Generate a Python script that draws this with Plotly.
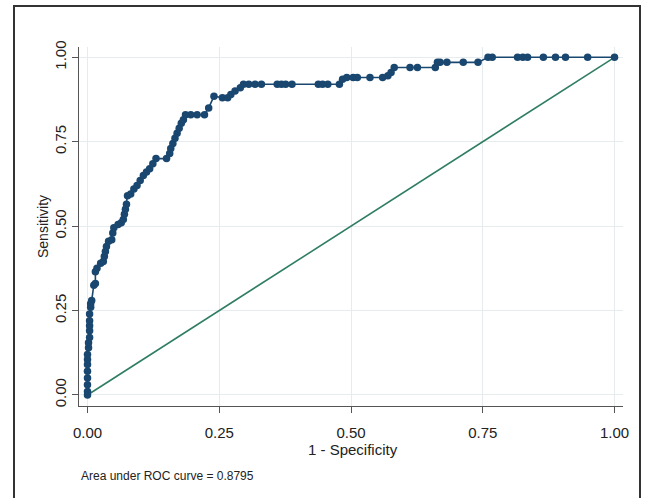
import plotly.graph_objects as go

# ROC curve points (1 - specificity, sensitivity)
fpr = [0.000, 0.000, 0.000, 0.000, 0.000, 0.000, 0.000, 0.000, 0.002, 0.002,
       0.004, 0.004, 0.004, 0.004, 0.004, 0.006, 0.006, 0.008, 0.012, 0.015,
       0.015, 0.018, 0.025, 0.030, 0.032, 0.034, 0.036, 0.040, 0.046, 0.048,
       0.050, 0.058, 0.064, 0.068, 0.070, 0.072, 0.074, 0.076, 0.082, 0.088,
       0.094, 0.100, 0.106, 0.112, 0.118, 0.124, 0.130, 0.150, 0.156, 0.158,
       0.162, 0.166, 0.170, 0.174, 0.178, 0.182, 0.186, 0.196, 0.208, 0.222,
       0.230, 0.240, 0.256, 0.266, 0.272, 0.280, 0.290, 0.296, 0.306, 0.318,
       0.330, 0.360, 0.368, 0.376, 0.388, 0.438, 0.446, 0.456, 0.478, 0.484,
       0.492, 0.504, 0.512, 0.536, 0.560, 0.570, 0.576, 0.582, 0.612, 0.626,
       0.660, 0.664, 0.669, 0.682, 0.713, 0.741, 0.760, 0.768, 0.816, 0.826,
       0.835, 0.865, 0.888, 0.907, 0.949, 1.000]
tpr = [0.000, 0.010, 0.030, 0.050, 0.070, 0.090, 0.105, 0.120, 0.140, 0.155,
       0.170, 0.190, 0.205, 0.220, 0.240, 0.260, 0.270, 0.280, 0.325, 0.330,
       0.365, 0.375, 0.390, 0.395, 0.410, 0.425, 0.440, 0.455, 0.460, 0.480,
       0.495, 0.505, 0.510, 0.520, 0.535, 0.550, 0.565, 0.590, 0.595, 0.610,
       0.620, 0.635, 0.650, 0.660, 0.670, 0.685, 0.700, 0.700, 0.715, 0.730,
       0.745, 0.760, 0.775, 0.790, 0.805, 0.815, 0.830, 0.830, 0.830, 0.830,
       0.850, 0.885, 0.880, 0.880, 0.890, 0.900, 0.910, 0.920, 0.920, 0.920,
       0.920, 0.920, 0.920, 0.920, 0.920, 0.920, 0.920, 0.920, 0.920, 0.935,
       0.940, 0.940, 0.940, 0.940, 0.940, 0.945, 0.955, 0.970, 0.970, 0.970,
       0.970, 0.985, 0.985, 0.985, 0.985, 0.985, 1.000, 1.000, 1.000, 1.000,
       1.000, 1.000, 1.000, 1.000, 1.000, 1.000]

ref_x = [0, 1]
ref_y = [0, 1]
tick_vals = [0, 0.25, 0.5, 0.75, 1.0]
tick_text = ["0.00", "0.25", "0.50", "0.75", "1.00"]
auc_text = "Area under ROC curve = 0.8795"

NAVY = "#1a476f"
GREEN = "#2f7d62"
FONT = "Liberation Sans, Arial, sans-serif"

fig = go.Figure()
fig.add_trace(go.Scatter(x=ref_x, y=ref_y, mode="lines",
                         line=dict(color=GREEN, width=1.6), showlegend=False))
fig.add_trace(go.Scatter(x=fpr, y=tpr, mode="lines+markers",
                         line=dict(color=NAVY, width=1.6),
                         marker=dict(color=NAVY, size=7.5),
                         showlegend=False))

axis_common = dict(
    tickvals=tick_vals, ticktext=tick_text,
    showgrid=True, gridcolor="#e6ecee", gridwidth=1,
    zeroline=False, showline=True, linecolor="#555555", linewidth=1.2,
    ticks="outside", ticklen=6, tickcolor="#555555", tickwidth=1.2,
    tickfont=dict(family=FONT, size=15, color="#222222"),
)
fig.update_xaxes(range=[-0.0161, 1.0161], ticklabelstandoff=7, **axis_common)
fig.update_yaxes(range=[-0.0326, 1.0305], tickangle=-90, **axis_common)

def px_x(px):
    return (px - 79) / 544.0

def px_y(py):
    return (406 - py) / 359.0

fig.add_annotation(text="1 - Specificity", xref="paper", yref="paper",
                   x=px_x(353), y=px_y(449), showarrow=False,
                   xanchor="center", yanchor="middle",
                   font=dict(family=FONT, size=15, color="#222222"))
fig.add_annotation(text="Sensitivity", xref="paper", yref="paper",
                   x=px_x(43), y=px_y(227), showarrow=False, textangle=-90,
                   xanchor="center", yanchor="middle",
                   font=dict(family=FONT, size=14, color="#222222"))
fig.add_annotation(text=auc_text, xref="paper", yref="paper",
                   x=px_x(79), y=px_y(476), showarrow=False,
                   xanchor="left", yanchor="middle",
                   font=dict(family=FONT, size=12, color="#222222"))

fig.add_shape(type="rect", xref="paper", yref="paper",
              x0=px_x(14), x1=px_x(640), y0=px_y(520), y1=px_y(6),
              line=dict(color="#333333", width=2), fillcolor="rgba(0,0,0,0)", layer="below")

fig.update_layout(
    width=653, height=498,
    margin=dict(l=79, r=30, t=47, b=92),
    plot_bgcolor="white", paper_bgcolor="white",
)

fig.write_html("out.html")
